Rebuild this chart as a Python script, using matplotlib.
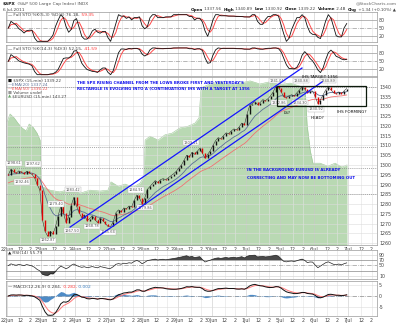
import numpy as np
import pandas as pd
import matplotlib
matplotlib.use('Agg')
import matplotlib.pyplot as plt
from matplotlib.patches import Rectangle

W, H = 400, 323

day_names = ['22Jun', '23Jun', '24Jun', '27Jun', '28Jun', '29Jun', '30Jun', '1Jul', '5Jul', '6Jul', '7Jul']

spx_first_open = 1295.5
spx_closes = [
    [1295.0, 1297.8, 1296.5, 1295.8, 1297.0, 1296.2, 1295.5, 1296.8, 1296.0, 1295.2, 1293.5, 1290.0, 1287.2],  # 22Jun
    [1272.0, 1266.0, 1263.5, 1266.0, 1264.5, 1268.5, 1274.0, 1279.0, 1275.5, 1270.5, 1273.5, 1279.5, 1283.4],  # 23Jun
    [1279.0, 1275.5, 1273.0, 1274.5, 1271.5, 1272.5, 1274.0, 1272.0, 1270.5, 1273.0, 1271.5, 1270.0, 1268.5],  # 24Jun
    [1268.5, 1271.0, 1275.5, 1277.0, 1276.0, 1278.0, 1277.5, 1279.0, 1278.5, 1282.0, 1284.5, 1283.0, 1280.1],  # 27Jun
    [1283.0, 1287.5, 1289.0, 1290.5, 1292.0, 1291.0, 1292.5, 1293.0, 1292.5, 1293.5, 1294.5, 1295.5, 1296.7],  # 28Jun
    [1298.5, 1300.0, 1302.5, 1305.0, 1304.0, 1306.5, 1305.5, 1307.0, 1308.5, 1306.0, 1303.5, 1305.5, 1307.4],  # 29Jun
    [1310.0, 1312.5, 1314.0, 1313.5, 1315.0, 1316.5, 1316.0, 1317.5, 1318.5, 1318.0, 1319.5, 1321.5, 1320.6],  # 30Jun
    [1326.0, 1330.5, 1331.5, 1332.5, 1331.0, 1332.0, 1333.5, 1333.0, 1334.0, 1335.5, 1337.5, 1340.5, 1339.7],  # 1Jul
    [1337.5, 1335.0, 1334.5, 1335.5, 1336.0, 1335.5, 1337.0, 1338.5, 1340.0, 1339.0, 1337.0, 1338.0, 1337.9],  # 5Jul
    [1335.0, 1331.5, 1333.5, 1336.0, 1338.5, 1340.0, 1338.5, 1337.0, 1336.5, 1337.5, 1336.5, 1338.0, 1339.2],  # 6Jul
]
ema20_seed = 1294.5
ema50_seed = 1290.5

# EURUSD overlay (x100) drawn as the green area behind price
eur_day = [0.00, 0.09, 0.21, 0.32, 0.44, 0.56, 0.65, 0.76, 0.88, 0.97, 1.00, 1.26, 1.55, 1.85, 2.14, 2.43,
           2.73, 2.96, 3.05, 3.26, 3.46, 3.70, 3.90, 4.02, 4.05, 4.19, 4.43, 4.63, 4.84, 5.07, 5.31, 5.51,
           5.63, 5.69, 5.95, 6.25, 6.54, 6.83, 7.13, 7.42, 7.71, 8.01, 8.30, 8.59, 8.74, 8.80, 8.89, 8.97,
           9.18, 9.41, 9.62, 9.82, 9.97]
eur_val = [144.31, 144.49, 144.40, 144.28, 144.17, 144.10, 144.26, 144.19, 144.05, 143.89, 142.83, 142.74,
           142.70, 142.76, 142.67, 142.74, 142.72, 142.74, 142.93, 142.83, 142.88, 142.81, 142.90, 143.06,
           143.89, 143.98, 143.89, 144.01, 144.05, 144.17, 144.21, 144.28, 144.40, 145.09, 145.18, 145.23,
           145.16, 145.20, 145.25, 145.18, 145.23, 145.16, 145.20, 145.13, 145.09, 144.24, 143.66, 143.36,
           143.36, 143.29, 143.36, 143.27, 143.32]

# price tags printed on the chart
tag_text = ['1298.61', '1297.62', '1292.46', '1262.87', '1279.40', '1283.42', '1267.50', '1268.78',
            '1265.64', '1284.91', '1279.86', '1309.21', '1341.01', '1332.86', '1334.30', '1340.88',
            '1330.92', '1340.89']
tag_day = [0.2, 0.75, 0.45, 1.2, 1.45, 1.94, 1.9, 2.5, 2.95, 3.78, 4.05, 5.4, 7.92, 7.98, 8.6, 8.62, 9.06, 9.41]
tag_price = [1301.0, 1300.5, 1291.3, 1261.5, 1280.0, 1287.3, 1266.2, 1268.7, 1265.6, 1287.2, 1278.2,
             1311.5, 1343.1, 1331.8, 1331.8, 1343.1, 1328.7, 1343.1]

# hand drawn channel (day, price) end points and the rectangle
chan_upper = [(1.85, 1268.2), (8.65, 1349.7)]
chan_lower = [(2.43, 1260.5), (9.24, 1342.6)]
rect_days = (7.92, 10.53)
rect_prices = (1330.3, 1340.5)
dotted_levels = [1340, 1309, 1298.5, 1285]

close = np.array(spx_closes).ravel()
n_bars = len(close)
xb = (np.arange(n_bars) + 0.5) / 13.0
opens = np.concatenate([[spx_first_open], close[:-1]])
close_s = pd.Series(close)


def ema(values, span, seed):
    alpha = 2.0 / (span + 1)
    out = np.empty(len(values))
    prev = seed
    for i, v in enumerate(values):
        prev = prev + alpha * (v - prev)
        out[i] = prev
    return out


def full_sto(n, k_smooth, d_smooth):
    lo = close_s.rolling(n, min_periods=1).min()
    hi = close_s.rolling(n, min_periods=1).max()
    raw = (100 * (close_s - lo) / (hi - lo)).fillna(50)
    k = raw.rolling(k_smooth, min_periods=1).mean()
    return k.values, k.rolling(d_smooth, min_periods=1).mean().values


def rsi(period, seed=1.0):
    delta = close - opens
    g, l = seed, seed
    out = []
    for v in delta:
        g += (max(v, 0) - g) / period
        l += (max(-v, 0) - l) / period
        out.append(100 - 100 / (1 + g / l))
    return np.array(out)


# 15-min settings translated to half-hour bars
ema20 = ema(close, 9.5, ema20_seed)
ema50 = ema(close, 24.5, ema50_seed)
k5, d5 = full_sto(4, 3, 3)
k14, d14 = full_sto(9, 3, 3)
rsi14 = rsi(11)
macd = ema(close, 5.5, close[0]) - ema(close, 12.5, close[0])
signal = ema(macd, 4, 0.0)
hist = macd - signal

fig = plt.figure(figsize=(W / 100, H / 100), dpi=100)
fig.patch.set_facecolor('white')
L, R = 6, 377
x_lo, x_hi = -0.03, 10.85

tick_pos, tick_lab = [], []
for i, name in enumerate(day_names):
    tick_pos += [i, i + 0.385, i + 0.69]
    tick_lab += [name, '12', '2']


def panel(top, bottom, **kw):
    return fig.add_axes([L / W, 1 - bottom / H, (R - L) / W, (bottom - top) / H], **kw)


def style(ax, yticks, ylim, show_x=False):
    ax.set_xlim(x_lo, x_hi)
    ax.set_ylim(*ylim)
    ax.set_xticks(tick_pos)
    ax.set_xticklabels(tick_lab if show_x else [])
    ax.set_yticks(yticks)
    ax.set_yticklabels([str(t) for t in yticks])
    ax.yaxis.tick_right()
    ax.tick_params(length=0, labelsize=3.4, colors='#444', pad=1.5)
    for sp in ax.spines.values():
        sp.set_color('#999')
        sp.set_linewidth(0.5)
    for i, p in enumerate(tick_pos):
        ax.axvline(p, color='#c8c8c8' if i % 3 == 0 else '#e2e2e2', lw=0.4, zorder=0.8)


def run(px, py, pieces, size=3.4, align='left'):
    renderer = fig.canvas.get_renderer()
    texts, widths = [], []
    for s, color, bold in pieces:
        t = fig.text(0, 1 - py / H, s, fontsize=size, color=color,
                     fontweight='bold' if bold else 'normal', va='center', ha='left')
        texts.append(t)
        widths.append(t.get_window_extent(renderer).width)
    x = px - sum(widths) if align == 'right' else px
    for t, w in zip(texts, widths):
        t.set_x(x / W)
        x += w
    return x


# stochastic panels
for top, bottom, k, d, ylim in [(12, 42, k5, d5, (-2.5, 110)), (45, 76, k14, d14, (-5, 111))]:
    ax = panel(top, bottom)
    style(ax, [80, 50, 20], ylim)
    for lv, ls in [(80, '-'), (50, '-.'), (20, '-')]:
        ax.axhline(lv, color='#9a9a9a', lw=0.5, ls=ls, zorder=0.9)
    ax.plot(xb, d, color='#ff4a4a', lw=0.7)
    ax.plot(xb, k, color='#111111', lw=0.6)

# main price panel: EURUSD area underneath, price on a clear axes on top
ax_eur = panel(77, 245)
ax_eur.set_xlim(x_lo, x_hi)
ax_eur.set_ylim(141.48, 145.34)
ax_eur.fill_between(eur_day, 141.0, eur_val, color='#b9d9b3', lw=0)
ax_eur.plot(eur_day, eur_val, color='#9cc696', lw=0.4)
ax_eur.set_xticks([])
ax_eur.set_yticks([])
for sp in ax_eur.spines.values():
    sp.set_visible(False)

ax = panel(77, 245, facecolor='none')
style(ax, list(range(1260, 1341, 5)), (1259.0, 1345.1), show_x=True)
for lv in range(1260, 1345, 5):
    ax.axhline(lv, color='#dcdcdc', lw=0.4, zorder=0.9)
for lv in dotted_levels:
    ax.axhline(lv, color='#8a8a8a', lw=0.5, ls=(0, (1.5, 1.5)), zorder=0.9)

ax.plot(xb, ema50, color='#f07272', lw=0.6, zorder=2)
ax.plot(xb, ema20, color='#5b6f96', lw=0.6, zorder=2)
ax.plot(xb, close, color='#222222', lw=0.35, zorder=3)
up = close >= opens
ax.vlines(xb[up], opens[up], close[up], color='#111111', lw=1.0, zorder=3)
ax.vlines(xb[~up], opens[~up], close[~up], color='#e00000', lw=1.0, zorder=3)

for s, dx, py in zip(tag_text, tag_day, tag_price):
    ax.text(dx, py, s, fontsize=2.6, color='#555', ha='center', va='center', zorder=4,
            bbox=dict(boxstyle='square,pad=0.15', fc='white', ec='#b0b0b0', lw=0.3))

for (x0, y0), (x1, y1) in [chan_upper, chan_lower]:
    ax.plot([x0, x1], [y0, y1], color='#1414ff', lw=0.9, zorder=5, clip_on=False)
ax.add_patch(Rectangle((rect_days[0], rect_prices[0]), rect_days[1] - rect_days[0],
                       rect_prices[1] - rect_prices[0], fill=False, ec='#0c1a0c', lw=0.9, zorder=5))

blue = '#1010ee'
note = dict(fontsize=2.75, color=blue, va='center', zorder=6, fontweight='bold')
ax.text(2.05, 1342.0, "THE SPX RISING CHANNEL FROM THE LOWS BROKE FIRST AND YESTERDAY'S", **note)
ax.text(2.05, 1338.9, "RECTANGLE IS EVOLVING INTO A (CONTINUATION) IHS WITH A TARGET AT 1356", **note)
ax.text(7.04, 1297.4, "IN THE BACKGROUND EURUSD IS ALREADY", **note)
ax.text(7.04, 1293.3, "CORRECTING AND MAY NOW BE BOTTOMING OUT", **note)
ax.text(8.65, 1345.1, "IHS TARGET 1356", fontsize=3.0, color='#111', va='center', zorder=6, clip_on=False)
ax.text(8.12, 1326.7, "LS?", fontsize=3.0, color='#111', va='center', zorder=6)
ax.text(8.89, 1324.1, "HEAD?", fontsize=3.0, color='#111', va='center', zorder=6)
ax.text(9.68, 1327.2, "IHS FORMING?", fontsize=3.0, color='#111', va='center', zorder=6)

# RSI panel
ax_r = panel(250, 279)
style(ax_r, [90, 70, 50, 10], (-2, 108))
for lv, c, ls in [(90, '#d8d8d8', '-'), (70, '#888888', '-'), (50, '#999999', '-.'),
                  (30, '#888888', '-'), (10, '#d8d8d8', '-')]:
    ax_r.axhline(lv, color=c, lw=0.5, ls=ls, zorder=0.9)
ax_r.fill_between(xb, 70, rsi14, where=rsi14 > 70, interpolate=True, color='#4a4a4a', lw=0)
ax_r.fill_between(xb, 30, rsi14, where=rsi14 < 30, interpolate=True, color='#4a4a4a', lw=0)
ax_r.plot(xb, rsi14, color='#222', lw=0.5)

# MACD panel
ax_m = panel(281, 316)
style(ax_m, [5, 0, -5], (-9.1, 6.8), show_x=True)
for lv in [5, -5]:
    ax_m.axhline(lv, color='#dcdcdc', lw=0.4, zorder=0.9)
ax_m.axhline(0, color='#888888', lw=0.5, ls='-.', zorder=0.9)
ax_m.fill_between(xb, 0, hist, color='#3b7fc0', lw=0, alpha=0.9)
ax_m.plot(xb, signal, color='#ff7a7a', lw=0.7)
ax_m.plot(xb, macd, color='#111', lw=0.7)

# header and legends
run(3, 4, [('$SPX', '#111', True), (' (S&P 500 Large Cap Index) INDX', '#555', False)], size=3.2)
run(3, 10, [('6-Jul-2011', '#444', False)], size=3.2)
fig.text(397 / W, 1 - 3.5 / H, '@StockCharts.com', fontsize=3.2, color='#666', ha='right', va='center')
run(396, 9.5, [('Open', '#111', True), (' 1337.56  ', '#444', False), ('High', '#111', True),
               (' 1340.89  ', '#444', False), ('Low', '#111', True), (' 1330.92  ', '#444', False),
               ('Close', '#111', True), (' 1339.22  ', '#444', False), ('Volume', '#111', True),
               (' 2.4B  ', '#444', False), ('Chg', '#111', True), (' +1.34 (+0.10%) \u25b2', '#444', False)],
    size=3.0, align='right')

run(8, 15, [('\u2014', '#111', False), (' Full STO %K(5,3) %D(3) 76.18,', '#444', False),
            (' 59.35', '#ff3030', False)], size=3.2)
run(8, 49, [('\u2014', '#111', False), (' Full STO %K(14,3) %D(3) 52.15,', '#444', False),
            (' 41.59', '#ff3030', False)], size=3.2)

run(8, 80.7, [('\u25a0', '#111', False), (' $SPX (15-min) 1339.22', '#444', False)], size=3.0)
run(8, 84.7, [('\u2014', '#5b6f96', False), ('EMA(20) 1337.24', '#5b6f96', False)], size=3.0)
run(8, 88.7, [('\u2014', '#f05050', False), ('EMA(50) 1336.22', '#f05050', False)], size=3.0)
run(8, 92.7, [('\u25a0', '#999', False), (' Volume undef', '#444', False)], size=3.0)
run(8, 96.7, [('\u25b2', '#6aa86a', False), (' $EURUSD (15-min) 143.27', '#444', False)], size=3.0)

run(8, 253.5, [('\u25b2', '#222', False), (' RSI(14) 55.79', '#444', False)], size=3.2)
run(8, 286.5, [('\u2014', '#111', False), (' MACD(12,26,9) 0.284,', '#444', False),
               (' 0.282,', '#ff4040', False), (' 0.002', '#3b7fc0', False)], size=3.2)

fig.savefig('out.png', dpi=100, facecolor='white')
